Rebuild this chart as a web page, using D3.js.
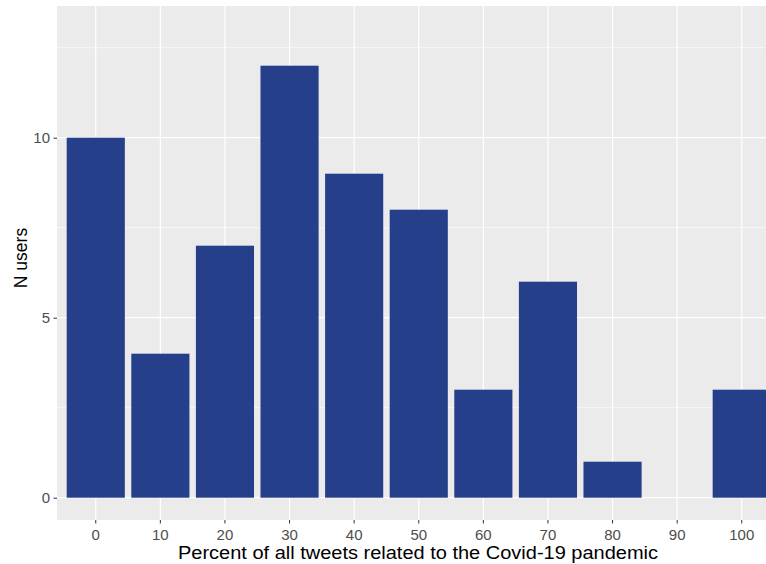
<!DOCTYPE html>
<html>
<head>
<meta charset="utf-8">
<script src="https://cdn.jsdelivr.net/npm/d3@7"></script>
<style>
  html, body { margin: 0; padding: 0; background: #ffffff; }
  svg { display: block; }
</style>
</head>
<body>
<svg id="chart" width="766" height="564"></svg>
<script>
const categories = ["0", "10", "20", "30", "40", "50", "60", "70", "80", "90", "100"];
const nUsers = [10, 4, 7, 12, 9, 8, 3, 6, 1, 0, 3];
const yMajorTicks = [0, 5, 10];
const yMinorTicks = [2.5, 7.5, 12.5];
const xTitle = "Percent of all tweets related to the Covid-19 pandemic";
const yTitle = "N users";

const svg = d3.select("#chart");
const panel = { left: 57, top: 6, right: 780.5, bottom: 520 };
const font = "'Liberation Sans', Arial, sans-serif";

const x = d3.scaleBand()
  .domain(categories)
  .range([panel.left, panel.right])
  .paddingInner(0.1)
  .paddingOuter(0.15);

const y = d3.scaleLinear()
  .domain([0, 10])
  .range([497.7, 137.7]);

// panel background
svg.append("rect")
  .attr("x", panel.left).attr("y", panel.top)
  .attr("width", panel.right - panel.left).attr("height", panel.bottom - panel.top)
  .attr("fill", "#EBEBEB");

const grid = svg.append("g");
grid.selectAll(".ymin").data(yMinorTicks).join("line")
  .attr("x1", panel.left).attr("x2", panel.right)
  .attr("y1", d => y(d)).attr("y2", d => y(d))
  .attr("stroke", "#ffffff").attr("stroke-width", 0.6);
grid.selectAll(".ymaj").data(yMajorTicks).join("line")
  .attr("x1", panel.left).attr("x2", panel.right)
  .attr("y1", d => y(d)).attr("y2", d => y(d))
  .attr("stroke", "#ffffff").attr("stroke-width", 1.2);
grid.selectAll(".xmaj").data(categories).join("line")
  .attr("x1", d => x(d) + x.bandwidth() / 2).attr("x2", d => x(d) + x.bandwidth() / 2)
  .attr("y1", panel.top).attr("y2", panel.bottom)
  .attr("stroke", "#ffffff").attr("stroke-width", 1.2);

// bars
svg.append("g").selectAll("rect").data(categories.map((c, i) => ({ c, v: nUsers[i] }))).join("rect")
  .attr("x", d => x(d.c))
  .attr("width", x.bandwidth())
  .attr("y", d => y(d.v))
  .attr("height", d => y(0) - y(d.v))
  .attr("fill", "#263F8A");

// x axis
const xAxis = svg.append("g")
  .attr("transform", `translate(0,${panel.bottom})`)
  .call(d3.axisBottom(x).tickSize(3.5).tickPadding(6));
xAxis.select(".domain").remove();
xAxis.selectAll(".tick line").attr("stroke", "#333333").attr("stroke-width", 1);
xAxis.selectAll(".tick text")
  .attr("fill", "#4D4D4D")
  .style("font-family", font)
  .style("font-size", "15px");

// y axis
const yAxis = svg.append("g")
  .attr("transform", `translate(${panel.left},0)`)
  .call(d3.axisLeft(y).tickValues(yMajorTicks).tickSize(3.5).tickPadding(3.5));
yAxis.select(".domain").remove();
yAxis.selectAll(".tick line").attr("stroke", "#333333").attr("stroke-width", 1);
yAxis.selectAll(".tick text")
  .attr("fill", "#4D4D4D")
  .style("font-family", font)
  .style("font-size", "15px");

// titles
svg.append("text")
  .attr("x", 418)
  .attr("y", 559)
  .attr("text-anchor", "middle")
  .attr("textLength", 480)
  .attr("lengthAdjust", "spacingAndGlyphs")
  .style("font-family", font)
  .style("font-size", "17.5px")
  .attr("fill", "#000000")
  .text(xTitle);

svg.append("text")
  .attr("transform", `translate(26.5,258) rotate(-90)`)
  .attr("text-anchor", "middle")
  .style("font-family", font)
  .style("font-size", "17.5px")
  .attr("fill", "#000000")
  .text(yTitle);
</script>
</body>
</html>
